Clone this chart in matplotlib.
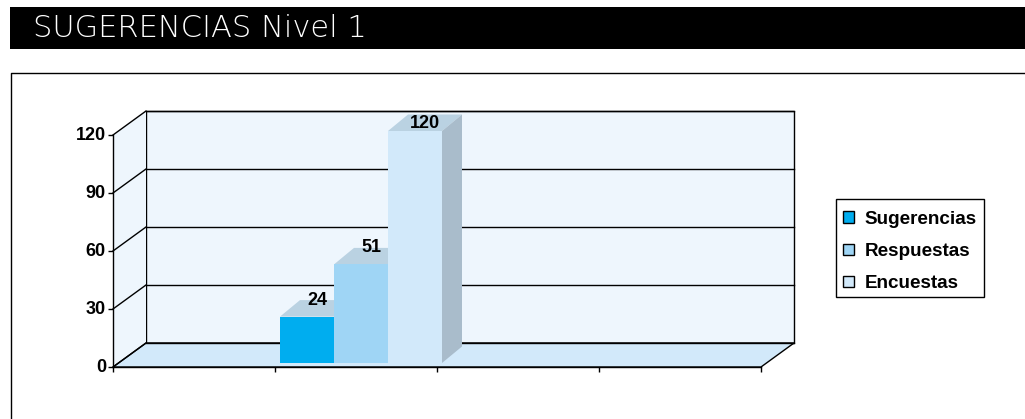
#!/usr/bin/env python3
"""Pseudo-3D column chart: SUGERENCIAS Nivel 1."""
import matplotlib
matplotlib.use("Agg")

import matplotlib.pyplot as plt
from matplotlib.lines import Line2D
from matplotlib.patches import Patch, Polygon, Rectangle
from matplotlib.transforms import Affine2D

TITLE = "SUGERENCIAS Nivel 1"
SERIES = ["Sugerencias", "Respuestas", "Encuestas"]
VALUES = [24, 51, 120]
Y_TICKS = [0, 30, 60, 90, 120]
X_TICKS = [0, 1, 2, 3, 4]

W, H = 1025, 419
BAR_COLORS = ["#00ADEF", "#9FD5F5", "#D2E9FA"]
WALL = "#EEF6FD"
FLOOR = "#D2E9FA"
TOP = "#BAD2E2"
SIDE = "#A9BCCB"
LINE_W = 1.0

plt.rcParams["font.family"] = ["Liberation Sans", "DejaVu Sans"]
plt.rcParams["font.weight"] = "bold"

fig = plt.figure(figsize=(W / 100, H / 100), dpi=100)
px = Affine2D().scale(1, -1).translate(0, H)  # image pixels to display


def shift(ax, dx, dy):
    return ax.transData + Affine2D().translate(dx, dy)


def flat(ax, pts, **kw):
    # polygon in display pixels, outside the axes clip
    ax.add_artist(Polygon(pts, closed=True, transform=Affine2D(), clip_on=False, **kw))


# title band and outer frame
fig.add_artist(Rectangle((10, 7), W - 10, 42, transform=px, color="black", lw=0))
fig.text(33, 28, TITLE, transform=px, color="white", fontsize=22, family="DejaVu Sans",
         weight="light", va="center", ha="left")
fig.add_artist(Line2D([11, 11, W], [H, 73, 73], transform=px, color="black", lw=LINE_W))
# legend box, under the axes so the legend entries stay on top
fig.add_artist(Rectangle((836, 199), 148, 98, transform=px, fc="white", ec="black", lw=LINE_W, zorder=-1))

ax = fig.add_axes([113 / W, (H - 367) / H, 648 / W, 232 / H])
ax.set_xlim(X_TICKS[0], X_TICKS[-1])
ax.set_ylim(Y_TICKS[0], Y_TICKS[-1])
ax.patch.set_visible(False)
ax.spines[["top", "right"]].set_visible(False)
ax.spines[["left", "bottom"]].set_linewidth(LINE_W)
ax.set_xticks(X_TICKS, [""] * len(X_TICKS))
ax.set_yticks(Y_TICKS)
ax.tick_params(length=3.6, width=LINE_W, labelsize=13, pad=1.5)
for label in ax.get_yticklabels():
    label.set_transform(label.get_transform() + Affine2D().translate(0, 1.5))

DX, DY = 33, 24
back = shift(ax, DX, DY)
x0, x1 = X_TICKS[0], X_TICKS[-1]
y0, y1 = Y_TICKS[0], Y_TICKS[-1]

ax.add_patch(Rectangle((x0, y0), x1 - x0, y1 - y0, transform=back, fc=WALL, ec="black",
                       lw=LINE_W, clip_on=False, zorder=1))
fl, fr = ax.transData.transform([(x0, y0), (x1, y0)])
tl = ax.transData.transform((x0, y1))
offs = (DX, DY)
flat(ax, [fl, tl, tl + offs, fl + offs], fc=WALL, lw=0, zorder=1)
flat(ax, [fl, fr, fr + offs, fl + offs], fc=FLOOR, ec="black", lw=LINE_W, zorder=1.5)

# grid on the back wall and the diagonals on the left wall
for v in Y_TICKS:
    ax.plot([x0, x1], [v, v], transform=back, color="black", lw=LINE_W, clip_on=False, zorder=2)
    p = ax.transData.transform((x0, v))
    ax.add_artist(Line2D([p[0], p[0] + DX], [p[1], p[1] + DY], transform=Affine2D(),
                         color="black", lw=LINE_W, clip_on=False, zorder=2))

# columns
OX, OY = 5, 4       # front face offset from the axis plane
BX, BY = 20, 16.5   # column depth
width = 1 / len(VALUES)
front = shift(ax, OX, OY)
rear = shift(ax, OX + BX, OY + BY)
handles = []
for i, (name, v, c) in enumerate(zip(SERIES, VALUES, BAR_COLORS)):
    left_x = 1 + i * width
    right_x = left_x + width
    ax.bar(left_x, v, width, align="edge", color=c, lw=0, transform=front, clip_on=False, zorder=4)
    a = front.transform([(left_x, v), (right_x, v), (right_x, 0)])
    b = rear.transform([(left_x, v), (right_x, v), (right_x, 0)])
    flat(ax, [a[0], a[1], b[1], b[0]], fc=TOP, lw=0, zorder=3)
    flat(ax, [a[1], a[2], b[2], b[1]], fc=SIDE, lw=0, zorder=3)
    handles.append(Patch(fc=c, ec="black", lw=LINE_W, label=name))

LABEL_OFFSETS = [(10.7, 16), (10.5, 17), (9.5, 7.5)]  # pixels from the top of the front face
for i, (v, off) in enumerate(zip(VALUES, LABEL_OFFSETS)):
    cx = 1 + (i + 0.5) * width
    ax.annotate(str(v), (cx, v), xycoords=front, xytext=off, textcoords="offset pixels",
                fontsize=13, ha="center", va="center", color="black", annotation_clip=False, zorder=6)

leg = ax.legend(handles=handles, loc="upper left", bbox_to_anchor=(835 / W, 1 - 203 / H),
                bbox_transform=fig.transFigure, fontsize=13.6, frameon=False,
                borderaxespad=0, borderpad=0.42,
                labelspacing=0.8, handlelength=0.58, handleheight=0.58, handletextpad=0.58)
leg.set_zorder(10)

fig.savefig("out.png", dpi=100)
